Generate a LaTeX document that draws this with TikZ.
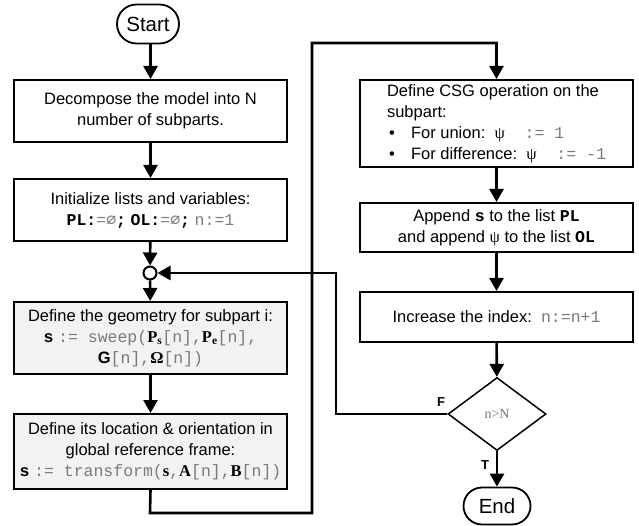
\documentclass[tikz,border=0pt]{standalone}
\usepackage{fontspec}
\setmainfont{Liberation Sans}
\newfontfamily\cf{Liberation Mono}
\newfontfamily\tf{Liberation Serif}
\newfontfamily\dvm{DejaVu Sans Mono}
\usetikzlibrary{arrows.meta,shapes.geometric,shapes.misc}
\definecolor{codegray}{HTML}{7A7A7A}
\definecolor{boxgray}{HTML}{F2F2F2}
% code fragments: plain code in gray, identifiers in bold black
\newcommand\cg[1]{{\cf\color{codegray}#1}}
\newcommand\cb[1]{{\cf\bfseries #1}}
\newcommand\bs[1]{{\tf\bfseries #1}}
\newcommand\psym{{\tf ψ}}
\newcommand\nullset{{\dvm\color{codegray}∅}}
\tikzset{
  flow/.style={line width=2.6pt,-{Triangle[length=13pt,width=14pt]}},
  procbox/.style={draw,line width=2pt,minimum width=273pt,align=center,
    font=\fontsize{16.5}{21}\selectfont,inner sep=2pt},
  shadedbox/.style={procbox,fill=boxgray},
  terminal/.style={draw,line width=1.8pt,rounded rectangle,minimum height=39pt,
    font=\fontsize{20.5}{24}\selectfont,inner xsep=4pt},
  decision/.style={draw,line width=1.5pt,diamond,minimum width=98pt,minimum height=73pt,
    inner sep=0pt,font=\fontsize{14}{16}\selectfont},
  branch/.style={font=\bfseries\fontsize{13}{15}\selectfont},
  joint/.style={circle,draw,line width=2pt,fill=white,minimum size=13pt,inner sep=0pt}
}
\begin{document}
\begin{tikzpicture}[x=1pt,y=-1pt]
\useasboundingbox (0,0) rectangle (639,526);

% left column
\node[terminal,minimum width=70pt] (start) at (148,24) {Start};
\node[procbox,minimum height=62pt] (decomp) at (150.5,111)
  {Decompose the model into N\\number of subparts.};
\node[procbox,minimum height=62pt] (init) at (150.5,210)
  {Initialize lists and variables:\\
   \cb{PL:}\cg{=}\nullset\cb{;} \cb{OL:}\cg{=}\nullset\cb{;} \cg{n:=1}};
\node[joint] (merge) at (150,273) {};
\node[shadedbox,minimum height=72pt] (geom) at (150.5,338)
  {Define the geometry for subpart i:\\
   \cb{s} \cg{:= sweep(}\bs{P\textsubscript{s}}\cg{[n],}\bs{P\textsubscript{e}}\cg{[n],}\\
   {\bfseries G}\cg{[n],}\bs{Ω}\cg{[n])}};
\node[shadedbox,minimum height=75pt] (place) at (150.5,451.5)
  {Define its location \& orientation in\\
   global reference frame:\\
   \cb{s} \cg{:= transform(}\bs{s}\cg{,}\bs{A}\cg{[n],}\bs{B}\cg{[n])}};

% right column
\node[procbox,minimum height=87pt,align=left] (csg) at (496.5,123.5)
  {Define CSG operation on the\\
   subpart:\\
   \makebox[24pt][l]{\hspace{2pt}\textbullet}For union:\ \ \psym\cg{\ \ := 1}\\
   \makebox[24pt][l]{\hspace{2pt}\textbullet}For difference:\ \ \psym\cg{\ \ := -1}};
\node[procbox,minimum height=49pt] (append) at (496.5,227.5)
  {Append \cb{s} to the list \cb{PL}\\
   and append \psym{} to the list \cb{OL}};
\node[procbox,minimum height=50pt] (incr) at (496.5,317)
  {Increase the index:\ \ \cg{n:=n+1}};
\node[decision] (test) at (497,414) {\tf\color{codegray}n>N};
\node[terminal,minimum width=75pt,minimum height=37pt] (finish) at (497,506) {End};

\node[branch] (flab) at (441,402) {F};
\node[branch] (tlab) at (485,465) {T};

% route points of the two long connectors
\coordinate (loopA) at (150,513);
\coordinate (loopB) at (312,513);
\coordinate (loopC) at (312,43);
\coordinate (loopD) at (496.5,43);
\coordinate (backA) at (336,414);
\coordinate (backB) at (336,273);

% connectors
\draw[flow] (start.south -| decomp.north) -- (decomp);
\draw[flow] (decomp) -- (init);
\draw[flow] (init) -- (merge);
\draw[flow] (merge) -- (geom);
\draw[flow] (geom) -- (place);
\draw[flow] (place.south) -- (loopA) -- (loopB) -- (loopC) -- (loopD) -- (csg.north);
\draw[flow] (csg) -- (append);
\draw[flow] (append) -- (incr);
\draw[flow] (incr) -- (test);
\draw[flow] (test.west) -- (backA) -- (backB) -- (merge.east);
\draw[flow] (test) -- (finish);
\end{tikzpicture}
\end{document}
